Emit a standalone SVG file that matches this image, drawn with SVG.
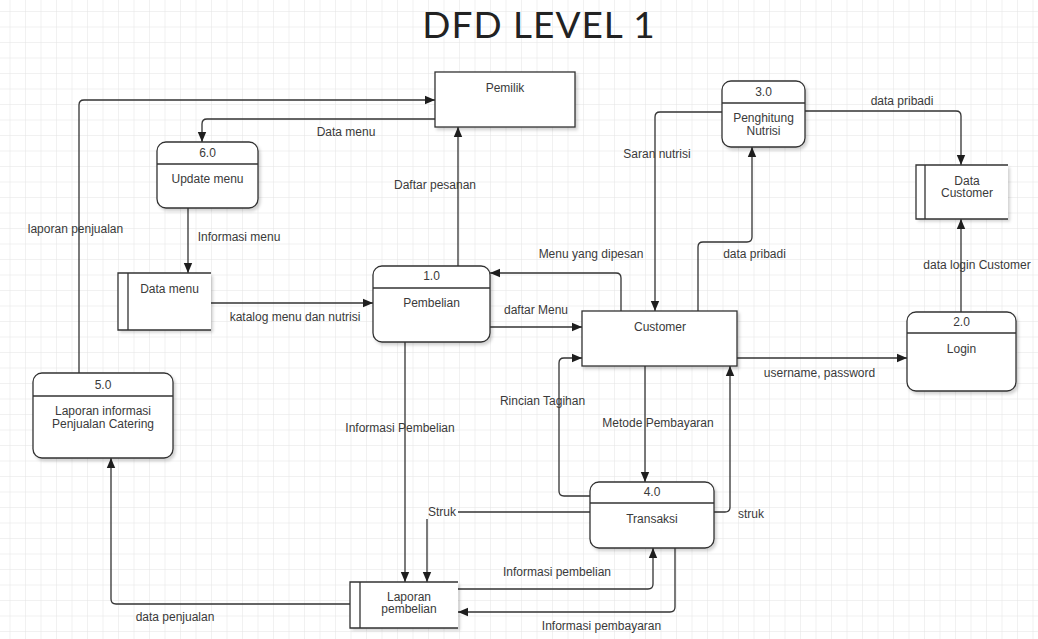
<svg xmlns="http://www.w3.org/2000/svg" width="1038" height="639" viewBox="0 0 1038 639">
  <defs>
    <pattern id="grid" x="9.5" y="11" width="15.5" height="15.5" patternUnits="userSpaceOnUse">
      <path d="M0 0 H15.5 M0 0 V15.5" fill="none" stroke="#e3e3e3" stroke-width="1"/>
    </pattern>
    <marker id="arrow" viewBox="0 0 10 10" refX="10" refY="5" markerWidth="10" markerHeight="10" markerUnits="userSpaceOnUse" orient="auto">
      <path d="M0 0.8 L10 5 L0 9.2 Z" fill="#1e1e1e"/>
    </marker>
    <filter id="shadow" x="-10%" y="-10%" width="130%" height="140%">
      <feDropShadow dx="2" dy="2.5" stdDeviation="1.5" flood-color="#000" flood-opacity="0.18"/>
    </filter>
  </defs>
  <style>
    .box { fill: #ffffff; stroke: #333333; stroke-width: 1.3; filter: url(#shadow); }
    .div { stroke: #333333; stroke-width: 1.3; fill: none; }
    .flow { fill: none; stroke: #333333; stroke-width: 1.3; }
    .arr { marker-end: url(#arrow); }
    .t { font-family: "Liberation Sans", Arial, sans-serif; font-size: 12px; fill: #3a3a3a; text-anchor: middle; }
    .title { font-family: Lato, "Liberation Sans", sans-serif; font-size: 37px; font-weight: 400; letter-spacing: 1px; fill: #222222; text-anchor: middle; }
  </style>

  <rect width="1038" height="639" fill="#ffffff"/>
  <rect width="1038" height="639" fill="url(#grid)"/>

  <text class="title" x="539" y="38">DFD LEVEL 1</text>

  <!-- connectors -->
  <g id="connectors">
    <path class="flow arr" d="M79 373 V105 Q79 100 84 100 H435"/>
    <path class="flow arr" d="M435 119 H207 Q202 119 202 124 V142"/>
    <path class="flow arr" d="M188 208 V273"/>
    <path class="flow arr" d="M211 303 H373"/>
    <path class="flow arr" d="M458 266 V127"/>
    <path class="flow arr" d="M621 311 V278 Q621 273 616 273 H490"/>
    <path class="flow arr" d="M490 327 H582"/>
    <path class="flow arr" d="M722 112 H660 Q655 112 655 117 V311"/>
    <path class="flow arr" d="M698 311 V247 Q698 242 703 242 H747 Q752 242 752 237 V147"/>
    <path class="flow arr" d="M805 111 H956 Q961 111 961 116 V165"/>
    <path class="flow arr" d="M961 312 V219"/>
    <path class="flow arr" d="M737 358 H907"/>
    <path class="flow arr" d="M645 366 V482"/>
    <path class="flow arr" d="M590 496 H564 Q559 496 559 491 V363 Q559 358 564 358 H582"/>
    <path class="flow arr" d="M714 512 H725 Q730 512 730 507 V366"/>
    <path class="flow" d="M590 512 H458"/>
    <path class="flow arr" d="M427 519 V582"/>
    <path class="flow arr" d="M405 342 V582"/>
    <path class="flow arr" d="M458 589 H648 Q653 589 653 584 V548"/>
    <path class="flow arr" d="M675 548 V607 Q675 612 670 612 H458"/>
    <path class="flow arr" d="M350 604 H116 Q111 604 111 599 V458"/>

    <text class="t" x="75.5" y="233">laporan penjualan</text>
    <text class="t" x="346" y="136">Data menu</text>
    <text class="t" x="239" y="241">Informasi menu</text>
    <text class="t" x="295" y="321">katalog menu dan nutrisi</text>
    <text class="t" x="435" y="189">Daftar pesanan</text>
    <text class="t" x="591" y="258">Menu yang dipesan</text>
    <text class="t" x="536" y="314">daftar Menu</text>
    <text class="t" x="657" y="158">Saran nutrisi</text>
    <text class="t" x="754.5" y="258">data pribadi</text>
    <text class="t" x="902" y="105">data pribadi</text>
    <text class="t" x="977" y="269">data login Customer</text>
    <text class="t" x="819.5" y="377">username, password</text>
    <text class="t" x="658" y="427">Metode Pembayaran</text>
    <text class="t" x="542.5" y="405">Rincian Tagihan</text>
    <text class="t" x="751" y="518">struk</text>
    <text class="t" x="442" y="516">Struk</text>
    <text class="t" x="400" y="432">Informasi Pembelian</text>
    <text class="t" x="557" y="576">Informasi pembelian</text>
    <text class="t" x="601.5" y="630">Informasi pembayaran</text>
    <text class="t" x="175" y="621">data penjualan</text>
  </g>

  <!-- external entity: Pemilik -->
  <g id="pemilik">
    <rect class="box" x="435" y="72" width="140" height="55"/>
    <text class="t" x="505" y="92">Pemilik</text>
  </g>

  <!-- external entity: Customer -->
  <g id="customer">
    <rect class="box" x="582" y="311" width="155" height="55"/>
    <text class="t" x="660" y="331">Customer</text>
  </g>

  <!-- process 1.0 -->
  <g id="p1">
    <rect class="box" x="373" y="266" width="117" height="76" rx="9"/>
    <path class="div" d="M373 288 H490"/>
    <text class="t" x="431.5" y="280">1.0</text>
    <text class="t" x="431.5" y="307">Pembelian</text>
  </g>

  <!-- process 2.0 -->
  <g id="p2">
    <rect class="box" x="907" y="312" width="109" height="79" rx="9"/>
    <path class="div" d="M907 333 H1016"/>
    <text class="t" x="961.5" y="326">2.0</text>
    <text class="t" x="961.5" y="353">Login</text>
  </g>

  <!-- process 3.0 -->
  <g id="p3">
    <rect class="box" x="722" y="81" width="83" height="66" rx="9"/>
    <path class="div" d="M722 103 H805"/>
    <text class="t" x="763.5" y="96">3.0</text>
    <text class="t" x="763.5" y="122">Penghitung</text>
    <text class="t" x="763.5" y="135">Nutrisi</text>
  </g>

  <!-- process 4.0 -->
  <g id="p4">
    <rect class="box" x="590" y="482" width="124" height="66" rx="9"/>
    <path class="div" d="M590 503 H714"/>
    <text class="t" x="652" y="496">4.0</text>
    <text class="t" x="652" y="523">Transaksi</text>
  </g>

  <!-- process 5.0 -->
  <g id="p5">
    <rect class="box" x="33" y="373" width="140" height="85" rx="9"/>
    <path class="div" d="M33 396 H173"/>
    <text class="t" x="103" y="389">5.0</text>
    <text class="t" x="103" y="415">Laporan informasi</text>
    <text class="t" x="103" y="428">Penjualan Catering</text>
  </g>

  <!-- process 6.0 -->
  <g id="p6">
    <rect class="box" x="157" y="142" width="101" height="66" rx="9"/>
    <path class="div" d="M157 164 H258"/>
    <text class="t" x="207.5" y="157">6.0</text>
    <text class="t" x="207.5" y="183">Update menu</text>
  </g>

  <!-- data store: Data menu -->
  <g id="ds-menu">
    <rect x="118" y="273" width="93" height="57" fill="#ffffff" filter="url(#shadow)"/>
    <path class="div" d="M211 273 H118 V330 H211 M128 273 V330"/>
    <text class="t" x="169.5" y="293">Data menu</text>
  </g>

  <!-- data store: Data Customer -->
  <g id="ds-customer">
    <rect x="916" y="165" width="92" height="54" fill="#ffffff" filter="url(#shadow)"/>
    <path class="div" d="M1008 165 H916 V219 H1008 M925 165 V219"/>
    <text class="t" x="967" y="185">Data</text>
    <text class="t" x="967" y="197">Customer</text>
  </g>

  <!-- data store: Laporan pembelian -->
  <g id="ds-laporan">
    <rect x="350" y="582" width="108" height="46" fill="#ffffff" filter="url(#shadow)"/>
    <path class="div" d="M458 582 H350 V628 H458 M360 582 V628"/>
    <text class="t" x="409" y="601">Laporan</text>
    <text class="t" x="409" y="613">pembelian</text>
  </g>
</svg>
